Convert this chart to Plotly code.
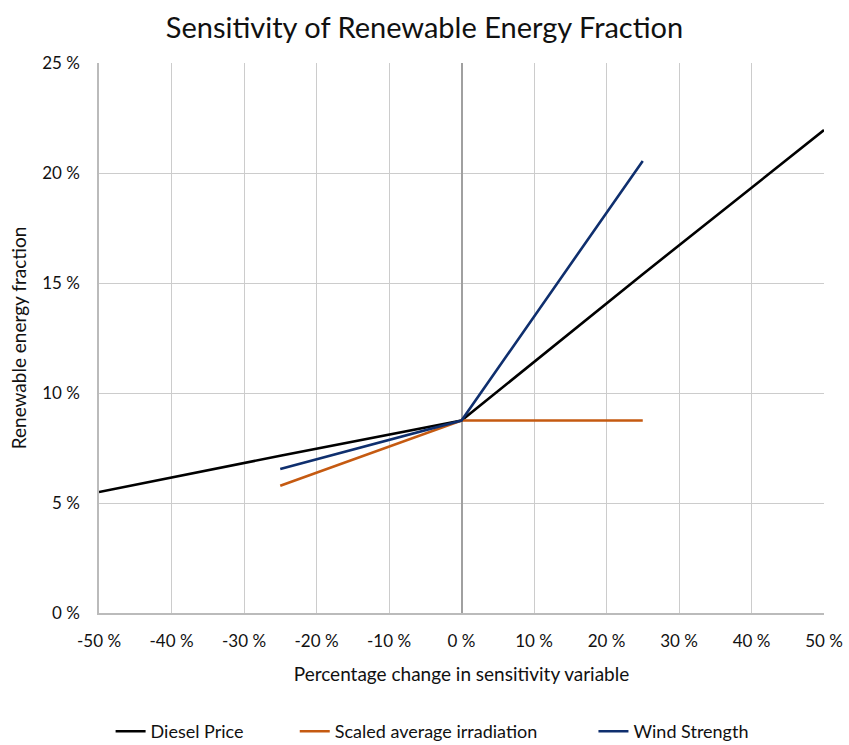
import plotly.graph_objects as go

# Data (percent)
diesel_x = [-50, -25, 0, 25, 50]
diesel_y = [5.5, 7.15, 8.75, 15.4, 21.95]
irr_x = [-25, 0, 25]
irr_y = [5.78, 8.75, 8.75]
wind_x = [-25, 0, 25]
wind_y = [6.55, 8.75, 20.55]

x_ticks = [-50, -40, -30, -20, -10, 0, 10, 20, 30, 40, 50]
x_labels = [f"{v} %" for v in x_ticks]
y_ticks = [0, 5, 10, 15, 20, 25]
y_labels = [f"{v} %" for v in y_ticks]

FONT = "Lato, 'Open Sans', sans-serif"

fig = go.Figure()
fig.add_trace(go.Scatter(x=diesel_x, y=diesel_y, mode="lines", name="Diesel Price",
                         line=dict(color="#000000", width=2.6), legend="legend"))
fig.add_trace(go.Scatter(x=irr_x, y=irr_y, mode="lines", name="Scaled average irradiation",
                         line=dict(color="#C55A11", width=2.6), legend="legend2"))
fig.add_trace(go.Scatter(x=wind_x, y=wind_y, mode="lines", name="Wind Strength",
                         line=dict(color="#0F2F6E", width=2.6), legend="legend3"))

leg_common = dict(orientation="h", xanchor="left", yref="container", y=0.018,
                  yanchor="middle", font=dict(size=18, color="#111111"),
                  bgcolor="rgba(0,0,0,0)", borderwidth=0)

fig.update_layout(
    width=849, height=745,
    paper_bgcolor="white", plot_bgcolor="white",
    margin=dict(l=99, r=25, t=63, b=132, autoexpand=False),
    font=dict(family=FONT, color="#222222", size=17),
    title=dict(text="Sensitivity of Renewable Energy Fraction", x=0.5, xanchor="center",
               y=0.962, yanchor="middle", font=dict(size=29, color="#111111", family=FONT)),
    showlegend=True,
    legend=dict(x=0.016, **leg_common),
    legend2=dict(x=0.270, **leg_common),
    legend3=dict(x=0.682, **leg_common),
    xaxis=dict(range=[-50, 50], tickmode="array", tickvals=x_ticks, ticktext=x_labels,
               showgrid=True, gridcolor="#CCCCCC", gridwidth=1.3,
               zeroline=True, zerolinecolor="#A0A0A0", zerolinewidth=1.6,
               showline=True, linecolor="#BBBBBB", linewidth=1.5, ticks="",
               automargin=False, ticklabelstandoff=12,
               tickfont=dict(size=17, color="#111111"),
               title=dict(text="Percentage change in sensitivity variable",
                          font=dict(size=19, color="#111111"), standoff=18)),
    yaxis=dict(range=[0, 25], tickmode="array", tickvals=y_ticks, ticktext=y_labels,
               showgrid=True, gridcolor="#CCCCCC", gridwidth=1.3,
               zeroline=False, showline=True, linecolor="#BBBBBB", linewidth=1.5, ticks="",
               automargin=False, ticklabelstandoff=14,
               tickfont=dict(size=17, color="#111111"),
               title=dict(text="Renewable energy fraction",
                          font=dict(size=19, color="#111111"), standoff=10)),
)

fig.write_html("out.html")
